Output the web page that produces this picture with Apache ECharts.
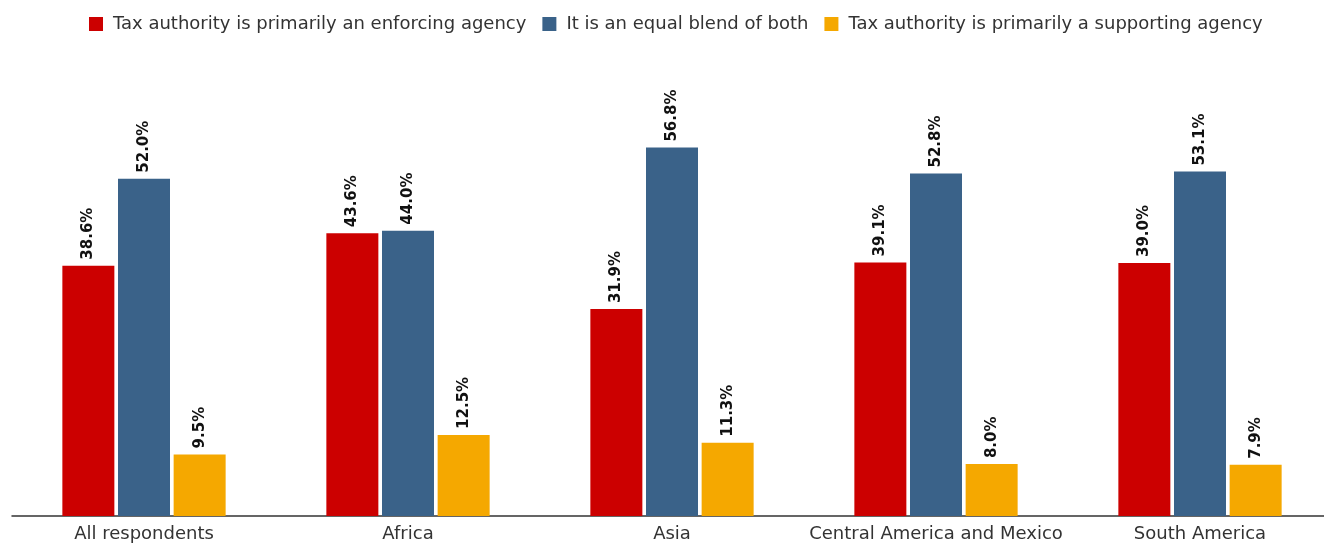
<!DOCTYPE html>
<html>
<head>
<meta charset="utf-8">
<script src="https://cdn.jsdelivr.net/npm/echarts@6/dist/echarts.min.js"></script>
<style>
  html, body { margin: 0; padding: 0; background: #fff; overflow: hidden; }
  /* the plot runs slightly past the right edge of the page */
  #chart { width: 1332px; height: 546px; }
</style>
</head>
<body>
<div id="chart"></div>
<script>
// Survey regions along the x axis
const categories = ['All respondents', 'Africa', 'Asia', 'Central America and Mexico', 'South America'];

// Share of respondents (%) per view of the tax authority
const enforcing = [38.6, 43.6, 31.9, 39.1, 39.0];
const blend = [52.0, 44.0, 56.8, 52.8, 53.1];
const supporting = [9.5, 12.5, 11.3, 8.0, 7.9];

const seriesNames = [
  'Tax authority is primarily an enforcing agency',
  'It is an equal blend of both',
  'Tax authority is primarily a supporting agency'
];
const colors = ['#CC0000', '#3A6289', '#F5A800'];
const FONT = 'DejaVu Sans';

function barSeries(name, data, color) {
  return {
    name: name,
    type: 'bar',
    data: data,
    barWidth: 52,
    barGap: '7%',
    itemStyle: { color: color },
    label: {
      show: true,
      position: 'top',
      rotate: 90,
      align: 'left',
      verticalAlign: 'middle',
      distance: 6,
      fontFamily: FONT,
      fontWeight: 'bold',
      fontSize: 15,
      color: '#111',
      formatter: p => p.value.toFixed(1) + '%'
    }
  };
}

const chart = echarts.init(document.getElementById('chart'));
chart.setOption({
  animation: false,
  legend: {
    top: 10,
    left: 84,
    itemWidth: 14,
    itemHeight: 14,
    itemGap: 16,
    icon: 'rect',
    textStyle: { fontFamily: FONT, fontSize: 18, color: '#333', padding: [0, 0, 0, 5] },
    data: seriesNames
  },
  grid: { left: 12, right: 0, top: 62, bottom: 30 },
  xAxis: {
    type: 'category',
    data: categories,
    axisLine: { lineStyle: { color: '#333', width: 1.5 } },
    axisTick: { show: false },
    axisLabel: { interval: 0, fontFamily: FONT, fontSize: 18, color: '#333', margin: 9 }
  },
  yAxis: {
    type: 'value',
    min: 0,
    max: 70,
    show: false,
    splitLine: { show: false }
  },
  series: [
    barSeries(seriesNames[0], enforcing, colors[0]),
    barSeries(seriesNames[1], blend, colors[1]),
    barSeries(seriesNames[2], supporting, colors[2])
  ]
});
</script>
</body>
</html>
